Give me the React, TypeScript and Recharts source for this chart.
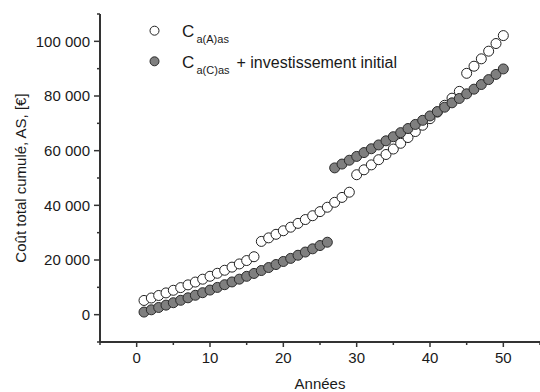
import { Scatter, ScatterChart, XAxis, YAxis } from "recharts";

// years 1..50
const YEARS = [
  1, 2, 3, 4, 5, 6, 7, 8, 9, 10, 11, 12, 13, 14, 15, 16, 17, 18, 19, 20, 21, 22, 23, 24, 25,
  26, 27, 28, 29, 30, 31, 32, 33, 34, 35, 36, 37, 38, 39, 40, 41, 42, 43, 44, 45, 46, 47, 48,
  49, 50,
];

// C a(A)as (open circles)
const COST_A = [
  5200, 6100, 7020, 7960, 8920, 9900, 10900, 11930, 12980, 14050, 15140, 16250, 17390, 18560,
  19800, 21200, 26800, 28100, 29400, 30700, 32000, 33400, 34800, 36200, 37700, 39300, 41100,
  42900, 44800, 51200, 53000, 54800, 56700, 58600, 60600, 62700, 64800, 67000, 69300, 71700,
  74100, 76600, 79200, 81700, 88300, 90900, 93600, 96400, 99200, 102100,
];

// C a(C)as + investissement initial (filled circles)
const COST_C = [
  950, 1780, 2630, 3490, 4370, 5260, 6170, 7100, 8040, 9000, 9970, 10960, 11970, 12990, 14030,
  15080, 16150, 17240, 18340, 19460, 20590, 21740, 22910, 24090, 25290, 26500, 53700, 55100,
  56500, 57900, 59300, 60700, 62100, 63600, 65100, 66600, 68100, 69600, 71100, 72700, 74300,
  75900, 77500, 79100, 80800, 82500, 84200, 86000, 87900, 89900,
];

const X_TICKS = [-5, 0, 5, 10, 15, 20, 25, 30, 35, 40, 45, 50, 55];
const X_LABELED = [0, 10, 20, 30, 40, 50];
const Y_TICKS = [
  -10000, 0, 10000, 20000, 30000, 40000, 50000, 60000, 70000, 80000, 90000, 100000, 110000,
];
const Y_LABELED = [0, 20000, 40000, 60000, 80000, 100000];

const FONT = '"Liberation Sans", Arial, sans-serif';
const INK = "#1a1a1a";
const AXIS = "#333";

const pointsA = YEARS.map((x, i) => ({ x, y: COST_A[i] }));
const pointsC = YEARS.map((x, i) => ({ x, y: COST_C[i] }));

const fmt = (v: number) => String(v).replace(/\B(?=(\d{3})+(?!\d))/g, " ");

function YTick(props: any) {
  const { x, y, payload } = props;
  const axisX = x + 10; // tickSize 6 + tickMargin 4
  const major = Y_LABELED.includes(payload.value);
  return (
    <g>
      <line x1={axisX - (major ? 6 : 3)} x2={axisX} y1={y} y2={y} stroke={AXIS} strokeWidth={1.5} />
      {major && (
        <text x={x} y={y} dy={5.3} textAnchor="end" fontSize={15} fontFamily={FONT} fill={INK}>
          {fmt(payload.value)}
        </text>
      )}
    </g>
  );
}

function XTick(props: any) {
  const { x, y, payload } = props;
  const axisY = y - 10; // tickSize 5 + tickMargin 5
  const major = X_LABELED.includes(payload.value);
  return (
    <g>
      <line x1={x} x2={x} y1={axisY} y2={axisY + (major ? 5 : 3)} stroke={AXIS} strokeWidth={1.5} />
      {major && (
        <text x={x} y={y} dy={11.3} textAnchor="middle" fontSize={15} fontFamily={FONT} fill={INK}>
          {payload.value}
        </text>
      )}
    </g>
  );
}

const openDot = (p: any) => (
  <circle cx={p.cx} cy={p.cy} r={5} fill="#fff" stroke="#222" strokeWidth={1} />
);
const filledDot = (p: any) => (
  <circle cx={p.cx} cy={p.cy} r={5} fill="#7f7f7f" stroke="#2b2b2b" strokeWidth={1} />
);

function Legend() {
  return (
    <svg
      width={540}
      height={392}
      style={{ position: "absolute", left: 0, top: 0, pointerEvents: "none" }}
    >
      <circle cx={154.5} cy={30.7} r={4.5} fill="#fff" stroke="#222" strokeWidth={1} />
      <circle cx={154.5} cy={61.3} r={4.5} fill="#7f7f7f" stroke="#2b2b2b" strokeWidth={1} />
      <text x={182} y={36.7} fontFamily={FONT} fontSize={17} fill={INK}>
        C
        <tspan x={196.5} fontSize={11} dy={6}>
          a(A)as
        </tspan>
      </text>
      <text x={182} y={68} fontFamily={FONT} fontSize={17} fill={INK}>
        C
        <tspan x={196.5} fontSize={11} dy={6}>
          a(C)as
        </tspan>
        <tspan x={236.5} dy={-6} fontSize={16}>
          + investissement initial
        </tspan>
      </text>
    </svg>
  );
}

export default function App() {
  return (
    <div style={{ position: "absolute", left: 0, top: 0, width: 540, height: 392, background: "#fff" }}>
      <ScatterChart width={540} height={392} margin={{ top: 14, right: 0, bottom: 0, left: 0 }}>
        <XAxis
          type="number"
          dataKey="x"
          domain={[-5, 55]}
          ticks={X_TICKS}
          interval={0}
          height={50}
          tickSize={5}
          tickMargin={5}
          tickLine={false}
          axisLine={{ stroke: AXIS, strokeWidth: 2 }}
          tick={(p: any) => <XTick {...p} />}
          label={{
            value: "Années",
            position: "insideBottom",
            offset: 3,
            fontSize: 15,
            fontFamily: FONT,
            fill: INK,
          }}
        />
        <YAxis
          type="number"
          dataKey="y"
          domain={[-10000, 110000]}
          ticks={Y_TICKS}
          interval={0}
          width={100}
          tickSize={6}
          tickMargin={4}
          tickLine={false}
          axisLine={{ stroke: AXIS, strokeWidth: 2 }}
          tick={(p: any) => <YTick {...p} />}
          label={{
            content: (lp: any) => {
              const vb = lp.viewBox;
              const cy = vb.y + vb.height / 2;
              return (
                <text
                  transform={`translate(26, ${cy}) rotate(-90)`}
                  textAnchor="middle"
                  fontSize={15}
                  fontFamily={FONT}
                  fill={INK}
                >
                  Coût total cumulé, AS, [€]
                </text>
              );
            },
          }}
        />
        <Scatter data={pointsA} shape={openDot} isAnimationActive={false} />
        <Scatter data={pointsC} shape={filledDot} isAnimationActive={false} />
      </ScatterChart>
      <Legend />
    </div>
  );
}
